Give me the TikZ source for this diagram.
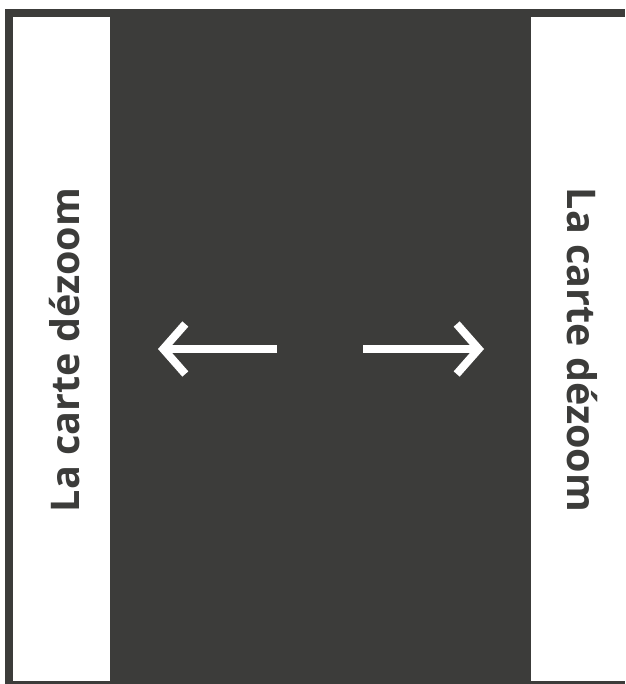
\documentclass[tikz,border=0pt]{standalone}
\usepackage{fontspec}
\setmainfont{Open Sans}
\usetikzlibrary{arrows.meta}
\definecolor{ardoise}{HTML}{3C3C3A}

\begin{document}
\begin{tikzpicture}[
		x=1pt, y=-1pt,
		volet/.style={fill=white, draw=none},
		titre/.style={text=ardoise, font=\bfseries\fontsize{39.5}{39.5}\selectfont, inner sep=0pt},
		fleche/.style={draw=white, line width=8pt, -{Straight Barb[length=22pt, width=50pt]}}
	]
  \useasboundingbox (0,0) rectangle (625,684);
  \fill [ardoise] (5,9) rectangle (625,684);
  \fill [volet] (13,17) rectangle (110,681);
  \fill [volet] (531,17) rectangle (625,681);

  \node (gauche) [titre, rotate=90] at (65,350) {La carte dézoom};
  \node (droite) [titre, rotate=-90] at (582,350) {La carte dézoom};

  \coordinate (g0) at (277,349);
  \coordinate (g1) at (158,349);
  \coordinate (d0) at (363,349);
  \coordinate (d1) at (484,349);
  
  \draw [fleche] (g0) -- (g1);
  \draw [fleche] (d0) -- (d1);
\end{tikzpicture}
\end{document}
